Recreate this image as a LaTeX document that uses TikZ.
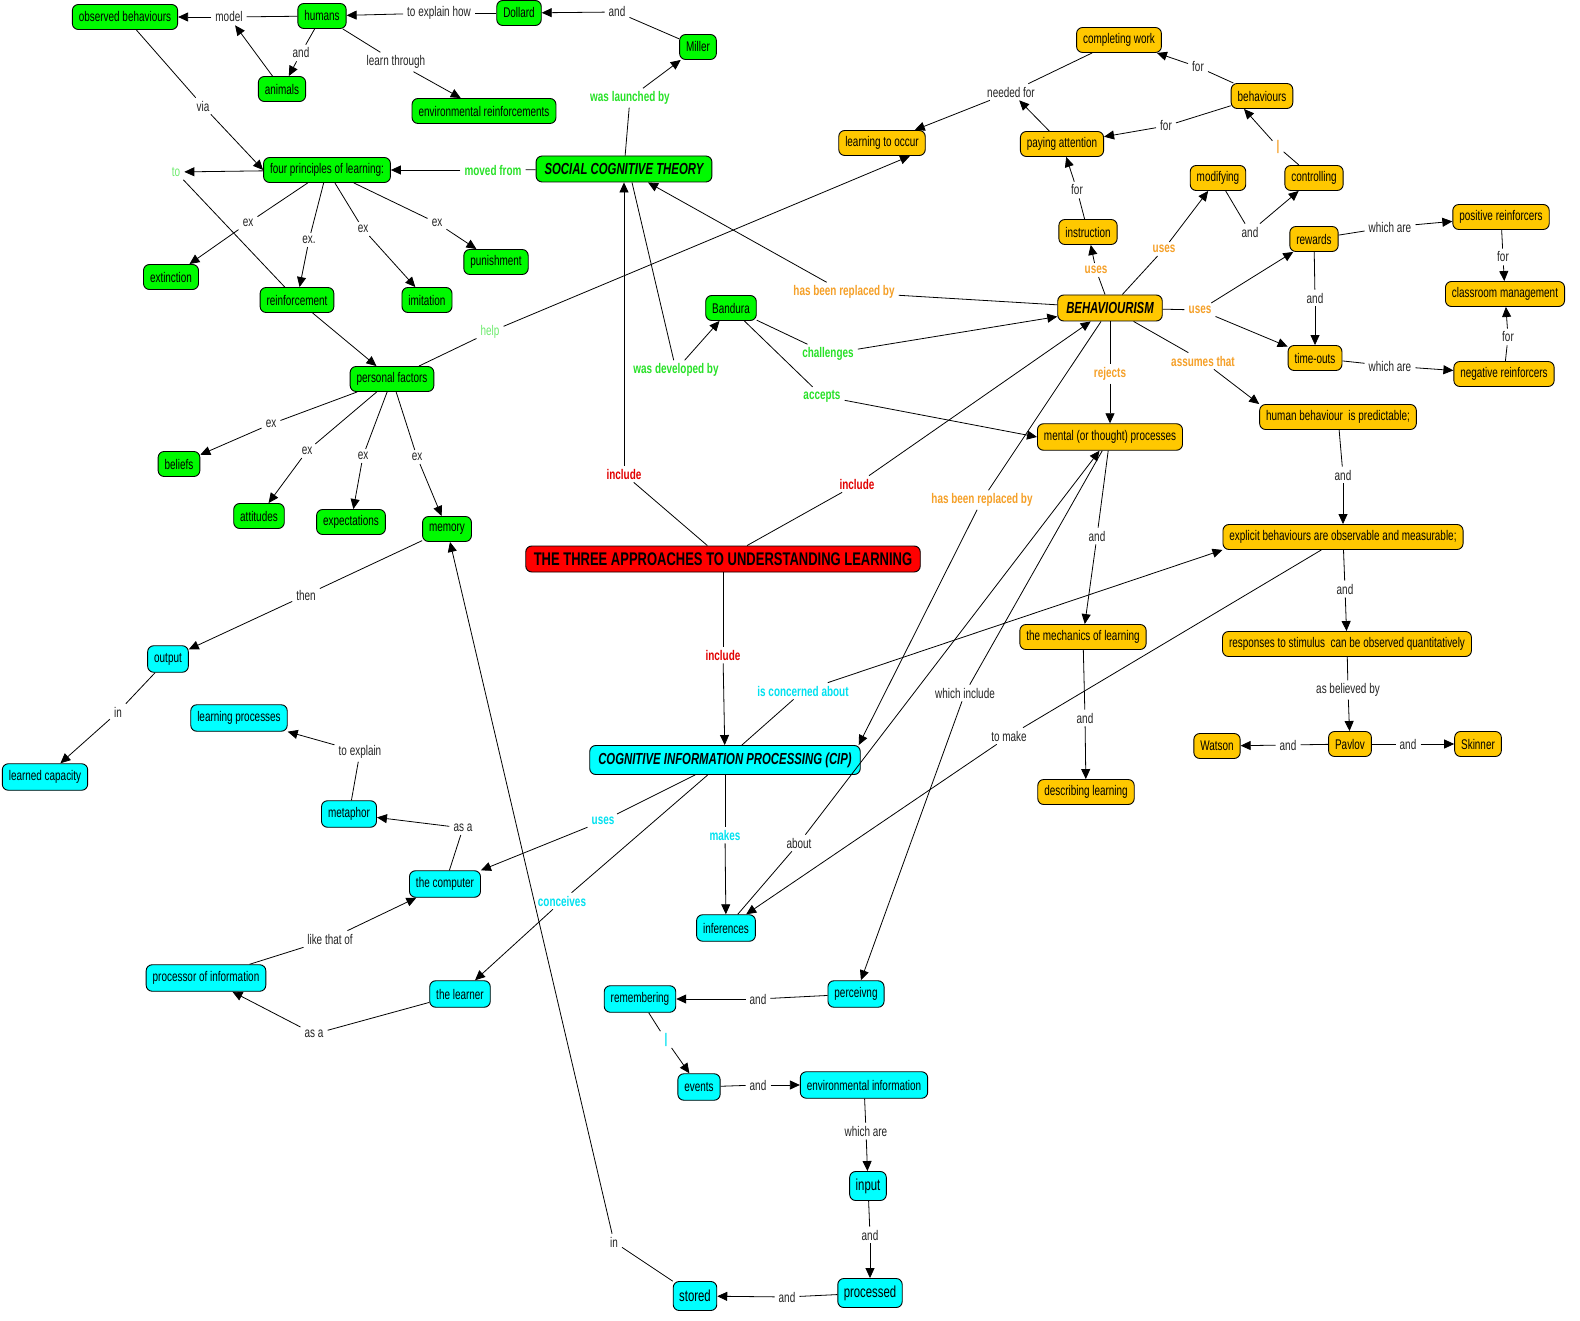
\documentclass[tikz,border=0pt]{standalone}
\usepackage{fontspec}
\setmainfont{Liberation Sans}[FakeStretch=0.71]
\usetikzlibrary{arrows.meta}
\definecolor{cgreen}{RGB}{0,250,0}
\definecolor{corange}{RGB}{255,200,0}
\definecolor{ccyan}{RGB}{0,255,255}
\definecolor{cred}{RGB}{255,0,0}
\definecolor{tgreen}{RGB}{40,225,40}
\definecolor{tlgreen}{RGB}{110,235,110}
\definecolor{torange}{RGB}{245,160,40}
\definecolor{tred}{RGB}{225,0,0}
\definecolor{tcyan}{RGB}{0,225,240}
\definecolor{tblack}{RGB}{35,35,35}
\newcommand\cmlink[3]{\draw[con] (#1) -- (#2); \draw[arr] (#2) -- (#3);}
\tikzset{
  concept/.style={draw=black, line width=0.9pt, rounded corners=6pt, minimum height=25pt,
    inner xsep=6.5pt, inner ysep=2pt, font=\fontsize{14}{16}\selectfont, text=black},
  gc/.style={concept, fill=cgreen},
  oc/.style={concept, fill=corange},
  cc/.style={concept, fill=ccyan, minimum height=26.5pt},
  title/.style={font=\fontsize{16}{18}\selectfont\bfseries\itshape, inner xsep=8.5pt, minimum height=26pt},
  big/.style={font=\fontsize{16}{18}\selectfont, minimum height=29pt, inner xsep=6pt},
  lbl/.style={inner xsep=4pt, inner ysep=3pt, font=\fontsize{14}{16}\selectfont, text=tblack},
  lg/.style={lbl, text=tgreen, font=\fontsize{14}{16}\selectfont\bfseries},
  lgl/.style={lbl, text=tlgreen},
  lo/.style={lbl, text=torange, font=\fontsize{14}{16}\selectfont\bfseries},
  lr/.style={lbl, text=tred, font=\fontsize{14}{16}\selectfont\bfseries},
  lc/.style={lbl, text=tcyan, font=\fontsize{14}{16}\selectfont\bfseries},
  con/.style={draw=black, line width=0.8pt},
  arr/.style={con, -{Triangle[length=10pt,width=9pt]}},
}
\begin{document}
\begin{tikzpicture}[x=1pt,y=-1pt]
\useasboundingbox[fill=white] (0,0) rectangle (1580,1321);
% ---------- green concepts ----------
\node[gc] (obs) at (125,17) {observed behaviours};
\node[gc] (humans) at (322,16) {humans};
\node[gc] (dollard) at (519,13) {Dollard};
\node[gc] (miller) at (698,47) {Miller};
\node[gc] (animals) at (282,89) {animals};
\node[gc] (envr) at (484,111) {environmental reinforcements};
\node[gc] (four) at (327,170) {four principles of learning:};
\node[gc,title] (sct) at (624,169) {SOCIAL COGNITIVE THEORY};
\node[gc] (ext) at (171,277) {extinction};
\node[gc] (reinf) at (297,300) {reinforcement};
\node[gc] (imit) at (427,300) {imitation};
\node[gc] (pun) at (496,262) {punishment};
\node[gc] (pf) at (392,379) {personal factors};
\node[gc] (beliefs) at (179,464) {beliefs};
\node[gc] (att) at (259,516) {attitudes};
\node[gc] (expect) at (351,522) {expectations};
\node[gc] (mem) at (447,529) {memory};
\node[gc] (bandura) at (731,308) {Bandura};
% ---------- root ----------
\node[concept, fill=cred, font=\fontsize{18.3}{20}\selectfont\bfseries, inner xsep=8pt, minimum height=26pt] (three) at (723,559) {THE THREE APPROACHES TO UNDERSTANDING LEARNING};
% ---------- orange concepts ----------
\node[oc] (compw) at (1119,40) {completing work};
\node[oc] (behav) at (1262,96) {behaviours};
\node[oc] (loc) at (882,143) {learning to occur};
\node[oc] (payatt) at (1062,144) {paying attention};
\node[oc] (modif) at (1218,178) {modifying};
\node[oc] (contr) at (1314,178) {controlling};
\node[oc] (instr) at (1088,232) {instruction};
\node[oc] (rewards) at (1314,239) {rewards};
\node[oc] (posr) at (1501,217) {positive reinforcers};
\node[oc] (classm) at (1505,294) {classroom management};
\node[oc,title] (beh) at (1110,308) {BEHAVIOURISM};
\node[oc] (timeouts) at (1315,358) {time-outs};
\node[oc] (negr) at (1504,374) {negative reinforcers};
\node[oc] (human) at (1338,417) {human behaviour \ is predictable;};
\node[oc, minimum height=26.5pt] (mental) at (1110,437) {mental (or thought) processes};
\node[oc] (explicit) at (1343,537) {explicit behaviours are observable and measurable;};
\node[oc] (mech) at (1083,637) {the mechanics of learning};
\node[oc] (resp) at (1347,644) {responses to stimulus \ can be observed quantitatively};
\node[oc] (watson) at (1217,746) {Watson};
\node[oc] (pavlov) at (1350,744) {Pavlov};
\node[oc] (skinner) at (1478,744) {Skinner};
\node[oc] (descl) at (1086,792) {describing learning};
% ---------- cyan concepts ----------
\node[cc,title,minimum height=29pt] (cip) at (725,760) {COGNITIVE INFORMATION PROCESSING (CIP)};
\node[cc] (output) at (168,659) {output};
\node[cc] (lproc) at (239,718) {learning processes};
\node[cc] (lcap) at (45,777) {learned capacity};
\node[cc] (metaphor) at (349,814) {metaphor};
\node[cc] (computer) at (445,884) {the computer};
\node[cc] (infer) at (726,928) {inferences};
\node[cc] (proc) at (206,978) {processor of information};
\node[cc] (learner) at (460,994) {the learner};
\node[cc] (perc) at (856,994) {perceivng};
\node[cc] (remem) at (640,999) {remembering};
\node[cc] (events) at (699,1087) {events};
\node[cc] (envinfo) at (864,1085) {environmental information};
\node[cc,big] (input) at (868,1186) {input};
\node[cc,big] (processed) at (870,1293) {processed};
\node[cc,big] (stored) at (695,1296) {stored};
% ---------- linking phrases ----------
\node[lbl] (l1) at (229,17) {model};
\node[lbl] (l2) at (301,53) {and};
\node[lbl] (l3) at (396,62) {learn through};
\node[lbl] (l4) at (439,13) {to explain how};
\node[lbl] (l5) at (617,12) {and};
\node[lg] (l6) at (630,98) {was launched by};
\node[lbl] (l7) at (203,106) {via};
\node[lg] (l8) at (493,170) {moved from};
\node[lgl] (l9) at (176,172) {to};
\node[lbl] (l10) at (248,223) {ex};
\node[lbl] (l11) at (309,240) {ex.};
\node[lbl] (l12) at (363,229) {ex};
\node[lbl] (l13) at (437,223) {ex};
\node[lgl] (l14) at (490,332) {help};
\node[lbl] (l15) at (271,424) {ex};
\node[lbl] (l16) at (307,451) {ex};
\node[lbl] (l17) at (363,456) {ex};
\node[lbl] (l18) at (417,457) {ex};
\node[lbl] (l19) at (306,595) {then};
\node[lbl] (l20) at (118,712) {in};
\node[lbl] (l21) at (360,752) {to explain};
\node[lbl] (l22) at (463,828) {as a};
\node[lbl] (l23) at (330,939) {like that of};
\node[lbl] (l24) at (314,1034) {as a};
\node[lbl] (l25) at (614,1242) {in};
\node[lr] (l26) at (624,474) {include};
\node[lr] (l27) at (857,484) {include};
\node[lr] (l28) at (723,655) {include};
\node[lg] (l29) at (676,370) {was developed by};
\node[lo] (l30) at (844,292) {has been replaced by};
\node[lg] (l31) at (828,354) {challenges};
\node[lg] (l32) at (822,396) {accepts};
\node[lbl] (l33) at (1011,92) {needed for};
\node[lbl] (l34) at (1198,67) {for};
\node[lbl] (l35) at (1166,126) {for};
\node[lo] (l36) at (1278,147) {|};
\node[lbl] (l37) at (1077,190) {for};
\node[lo] (l38) at (1096,270) {uses};
\node[lo] (l39) at (1164,249) {uses};
\node[lbl] (l40) at (1250,232) {and};
\node[lo] (l41) at (1200,310) {uses};
\node[lbl] (l42) at (1390,227) {which are};
\node[lbl] (l43) at (1503,257) {for};
\node[lbl] (l44) at (1315,298) {and};
\node[lbl] (l45) at (1390,366) {which are};
\node[lbl] (l46) at (1508,337) {for};
\node[lo] (l47) at (1110,374) {rejects};
\node[lo] (l48) at (1203,361) {assumes that};
\node[lbl] (l49) at (1343,475) {and};
\node[lbl] (l50) at (1345,589) {and};
\node[lbl] (l51) at (1348,690) {as believed by};
\node[lbl] (l52) at (1288,745) {and};
\node[lbl] (l53) at (1408,744) {and};
\node[lo] (l54) at (982,500) {has been replaced by};
\node[lbl] (l55) at (1097,536) {and};
\node[lbl] (l56) at (1085,718) {and};
\node[lbl] (l57) at (965,693) {which include};
\node[lc] (l58) at (803,691) {is concerned about};
\node[lbl] (l59) at (1009,736) {to make};
\node[lbl] (l60) at (799,843) {about};
\node[lc] (l61) at (603,821) {uses};
\node[lc] (l62) at (562,901) {conceives};
\node[lc] (l63) at (725,835) {makes};
\node[lbl] (l64) at (758,999) {and};
\node[lc] (l65) at (666,1040) {|};
\node[lbl] (l66) at (758,1085) {and};
\node[lbl] (l67) at (866,1131) {which are};
\node[lbl] (l68) at (870,1235) {and};
\node[lbl] (l69) at (787,1297) {and};
% ---------- connectors ----------
\cmlink{humans}{l1}{obs}
\draw[arr] (animals) -- (l1);
\cmlink{humans}{l2}{animals}
\cmlink{humans}{l3}{envr}
\cmlink{dollard}{l4}{humans}
\cmlink{miller}{l5}{dollard}
\cmlink{sct}{l6}{miller}
\draw[con] (obs) -- (l7); \draw[arr] (l7) -- (four.west);
\cmlink{sct}{l8}{four}
\draw[arr] (four) -- (l9);
\draw[con] (l9) -- (reinf);
\cmlink{four}{l10}{ext}
\cmlink{four}{l11}{reinf}
\cmlink{four}{l12}{imit}
\cmlink{four}{l13}{pun}
\draw[arr] (reinf) -- (pf);
\draw[con] (pf) -- (l14); \draw[arr] (l14) -- ([xshift=28pt]loc.south);
\cmlink{pf}{l15}{beliefs}
\cmlink{pf}{l16}{att}
\cmlink{pf}{l17}{expect}
\cmlink{pf}{l18}{mem}
\cmlink{mem}{l19}{output}
\cmlink{output}{l20}{lcap}
\cmlink{metaphor}{l21}{lproc}
\cmlink{computer}{l22}{metaphor}
\cmlink{proc}{l23}{computer}
\cmlink{learner}{l24}{proc}
\cmlink{stored}{l25}{mem}
\cmlink{three}{l26}{sct}
\cmlink{three}{l27}{beh}
\cmlink{three}{l28}{cip}
\draw[con] ([xshift=8pt]sct.south) -- (l29); \draw[arr] (l29) -- (bandura);
\cmlink{beh}{l30}{sct}
\cmlink{bandura}{l31}{beh}
\draw[con] (bandura) -- (l32); \draw[arr] (l32) -- (mental.west);
\draw[con] (compw) -- (l33);
\draw[arr] (payatt) -- (l33);
\draw[arr] (l33) -- (loc);
\cmlink{behav}{l34}{compw}
\cmlink{behav}{l35}{payatt}
\draw[con] (contr) -- (l36); \draw[arr] (l36) -- ([xshift=-18pt]behav.south);
\cmlink{instr}{l37}{payatt}
\cmlink{beh}{l38}{instr}
\cmlink{beh}{l39}{modif}
\cmlink{modif}{l40}{contr}
\cmlink{beh}{l41}{rewards}
\draw[arr] (l41) -- (timeouts);
\cmlink{rewards}{l42}{posr}
\cmlink{posr}{l43}{classm}
\cmlink{rewards}{l44}{timeouts}
\cmlink{timeouts}{l45}{negr}
\cmlink{negr}{l46}{classm}
\cmlink{beh}{l47}{mental}
\draw[con] (beh) -- (l48); \draw[arr] (l48) -- (human.north west);
\cmlink{human}{l49}{explicit}
\cmlink{explicit}{l50}{resp}
\cmlink{resp}{l51}{pavlov}
\cmlink{pavlov}{l52}{watson}
\cmlink{pavlov}{l53}{skinner}
\draw[con] (beh) -- (l54); \draw[arr] (l54) -- ([xshift=-2pt]cip.north east);
\cmlink{mental}{l55}{mech}
\cmlink{mech}{l56}{descl}
\cmlink{mental}{l57}{perc}
\draw[con] (cip) -- (l58); \draw[arr] (l58) -- (explicit.south west);
\cmlink{explicit}{l59}{infer}
\cmlink{infer}{l60}{mental}
\draw[con] (cip) -- (l61); \draw[arr] (l61) -- (computer.north east);
\cmlink{cip}{l62}{learner}
\cmlink{cip}{l63}{infer}
\cmlink{perc}{l64}{remem}
\cmlink{remem}{l65}{events}
\cmlink{events}{l66}{envinfo}
\cmlink{envinfo}{l67}{input}
\cmlink{input}{l68}{processed}
\cmlink{processed}{l69}{stored}
\end{tikzpicture}
\end{document}
